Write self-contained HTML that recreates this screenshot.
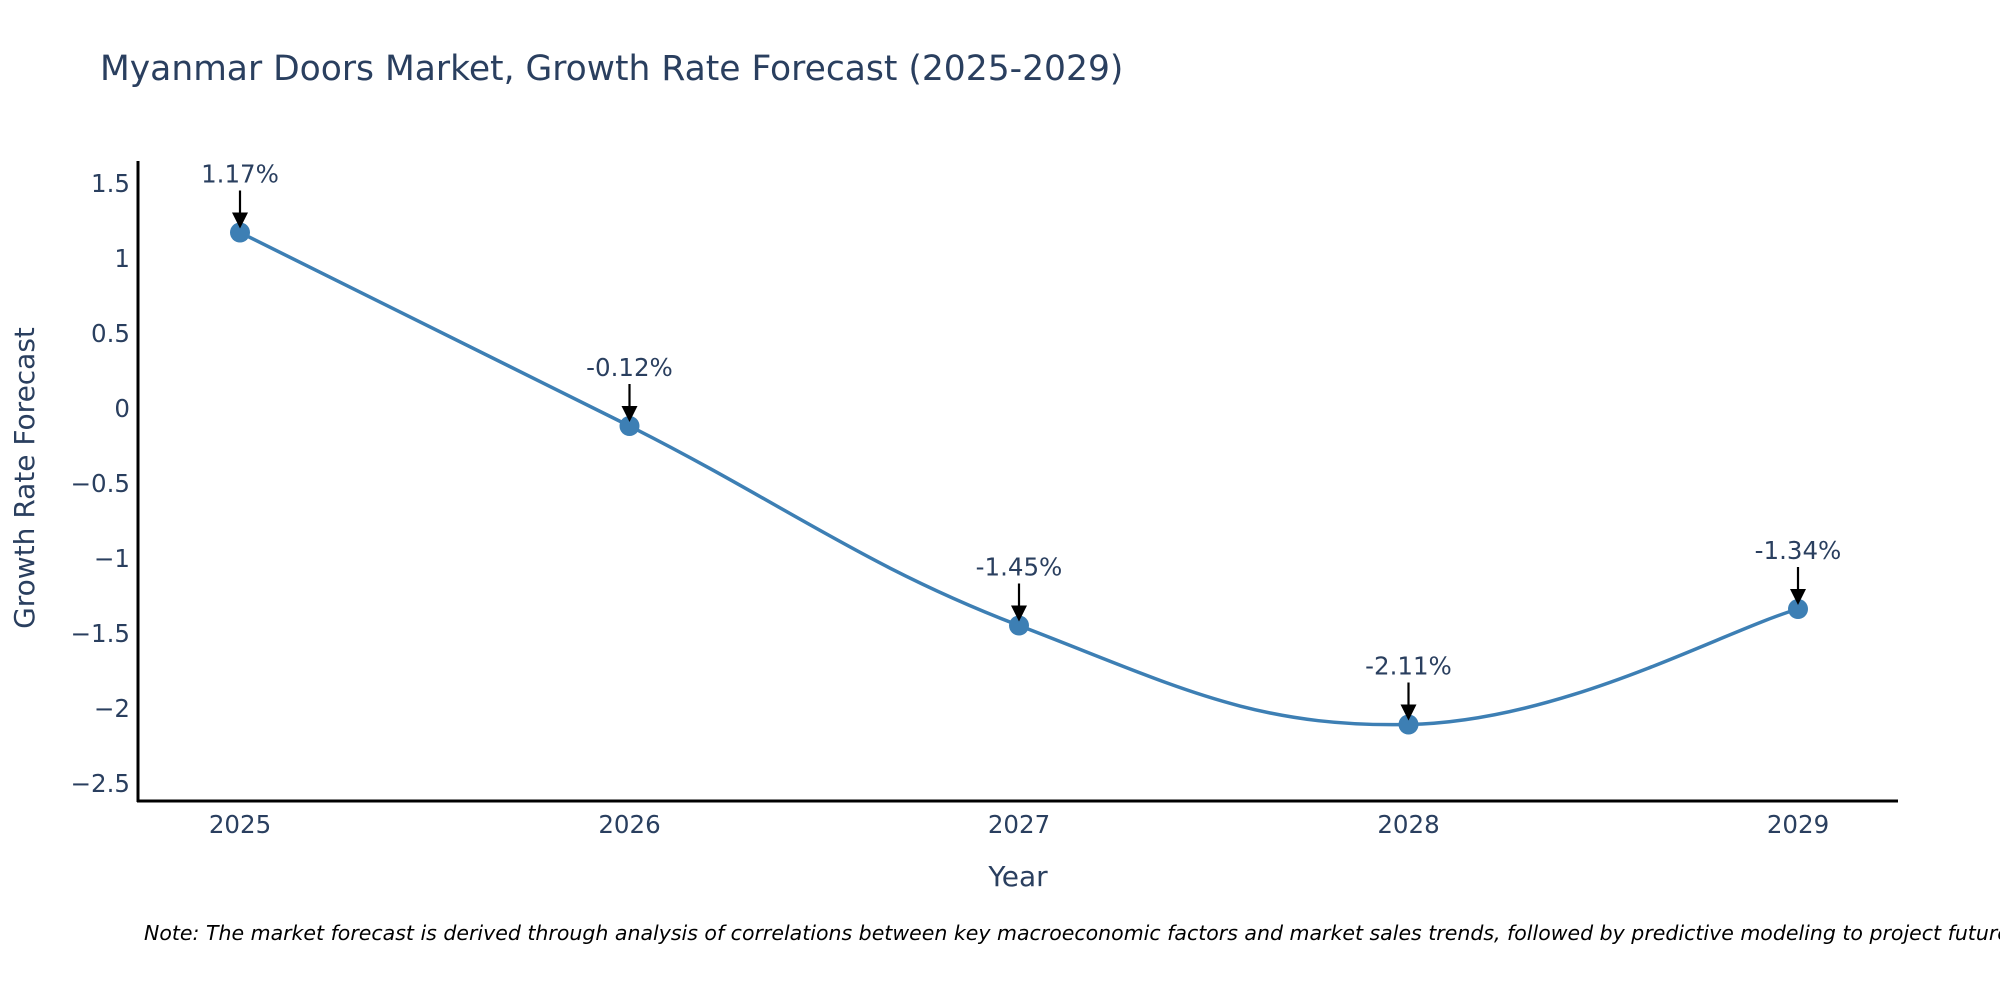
<!DOCTYPE html>
<html><head><meta charset="utf-8"><style>
html,body{margin:0;padding:0;background:#fff;}
svg{display:block;font-family:"DejaVu Sans","Liberation Sans",sans-serif;}
</style></head><body>
<svg id="chart" width="2000" height="1000" viewBox="0 0 2000 1000">
<text x="100" y="80" font-size="34.5" fill="#2a3f5f">Myanmar Doors Market, Growth Rate Forecast (2025-2029)</text>
<g id="yticks"></g>
<g id="xticks"></g>
<path id="line" fill="none" stroke="#3d7fb4" stroke-width="3.5"/>
<g id="points"></g>
<g id="annots"></g>
<line x1="138" y1="161" x2="138" y2="802" stroke="#000" stroke-width="3"/>
<line x1="137" y1="801" x2="1898" y2="801" stroke="#000" stroke-width="3"/>
<text x="1018" y="886" font-size="28" fill="#2a3f5f" text-anchor="middle">Year</text>
<text transform="translate(34,478) rotate(-90)" font-size="28" fill="#2a3f5f" text-anchor="middle">Growth Rate Forecast</text>
<text x="144" y="940" font-size="20.5" font-style="italic" fill="#000">Note: The market forecast is derived through analysis of correlations between key macroeconomic factors and market sales trends, followed by predictive modeling to project future sales.</text>
</svg>
<script>
const years = [2025, 2026, 2027, 2028, 2029];
const values = [1.17, -0.12, -1.45, -2.11, -1.34];
const labels = ["1.17%", "-0.12%", "-1.45%", "-2.11%", "-1.34%"];
const yTicks = [1.5, 1, 0.5, 0, -0.5, -1, -1.5, -2, -2.5];
const yTickLabels = ["1.5", "1", "0.5", "0", "\u22120.5", "\u22121", "\u22121.5", "\u22122", "\u22122.5"];

const NS = "http://www.w3.org/2000/svg";
function xs(v){ return 240 + (v - years[0]) * 389.5; }
function ys(v){ return 408 - v * 150; }
function mk(tag, attrs, parent){ const e=document.createElementNS(NS,tag); for(const k in attrs) e.setAttribute(k,attrs[k]); parent.appendChild(e); return e; }

const yg=document.getElementById('yticks');
yTicks.forEach((t,i)=>{
  const e=mk('text',{x:130,y:ys(t)+9,'font-size':24.5,fill:'#2a3f5f','text-anchor':'end'},yg);
  
  
  e.textContent=yTickLabels[i];
});
const xg=document.getElementById('xticks');
years.forEach(y=>{
  const e=mk('text',{x:xs(y),y:833,'font-size':24.5,fill:'#2a3f5f','text-anchor':'middle'},xg);
  
  
  e.textContent=String(y);
});

const P=years.map((y,i)=>[xs(y),ys(values[i])]);
let d='M'+P[0][0]+','+P[0][1];
for(let i=0;i<P.length-1;i++){
  const p0=P[Math.max(0,i-1)],p1=P[i],p2=P[i+1],p3=P[Math.min(P.length-1,i+2)];
  const t=0.2;
  const c1=[p1[0]+(p2[0]-p0[0])*t,p1[1]+(p2[1]-p0[1])*t];
  const c2=[p2[0]-(p3[0]-p1[0])*t,p2[1]-(p3[1]-p1[1])*t];
  d+=' C'+c1[0]+','+c1[1]+' '+c2[0]+','+c2[1]+' '+p2[0]+','+p2[1];
}
document.getElementById('line').setAttribute('d',d);

const pg=document.getElementById('points'), ag=document.getElementById('annots');
P.forEach((p,i)=>{
  const c=mk('circle',{cx:p[0],cy:p[1],r:10,fill:'#3d7fb4'},pg);
  
  
  const l=mk('line',{x1:p[0],y1:p[1]-42,x2:p[0],y2:p[1]-18,stroke:'#000','stroke-width':2.2},ag);
  
  
  const h=mk('polygon',{points:(p[0]-8)+','+(p[1]-20)+' '+(p[0]+8)+','+(p[1]-20)+' '+p[0]+','+(p[1]-4),fill:'#000'},ag);
  
  
  const t=mk('text',{x:p[0],y:p[1]-50,'font-size':24.5,fill:'#2a3f5f','text-anchor':'middle'},ag);
  
  
  t.textContent=labels[i];
});
</script>
</body></html>
